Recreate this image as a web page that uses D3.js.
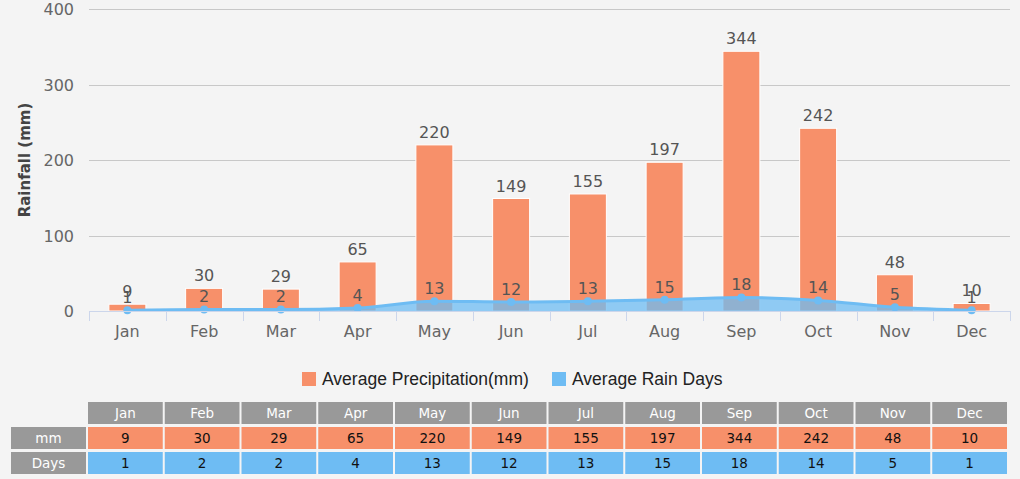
<!DOCTYPE html>
<html>
<head>
<meta charset="utf-8">
<script src="https://cdnjs.cloudflare.com/ajax/libs/d3/7.8.5/d3.min.js"></script>
<style>
  body { margin: 0; background: #f4f4f4; }
  svg { display: block; }
</style>
</head>
<body>
<div id="chart"></div>
<script>
// DATA
const months = ['Jan', 'Feb', 'Mar', 'Apr', 'May', 'Jun', 'Jul', 'Aug', 'Sep', 'Oct', 'Nov', 'Dec'];
const rainfall = [9, 30, 29, 65, 220, 149, 155, 197, 344, 242, 48, 10];
const rainDays = [1, 2, 2, 4, 13, 12, 13, 15, 18, 14, 5, 1];
const yTicks = [0, 100, 200, 300, 400];

const W = 1020, H = 479;
const margin = { top: 9, left: 89, right: 10 };
const plotBottom = 311;

const orange = '#f7906a';
const blue = '#6ebcf3';
const font = '"DejaVu Sans", Verdana, sans-serif';

const svg = d3.select('#chart').append('svg').attr('width', W).attr('height', H);
svg.append('rect').attr('width', W).attr('height', H).attr('fill', '#f4f4f4');

const x = d3.scaleBand().domain(months).range([margin.left, W - margin.right]);
const y = d3.scaleLinear().domain([0, 400]).range([plotBottom, margin.top]);

// GRID
svg.append('g').selectAll('line').data(yTicks.slice(1)).enter().append('line')
    .attr('x1', margin.left).attr('x2', W - margin.right)
    .attr('y1', d => Math.round(y(d)) + 0.5).attr('y2', d => Math.round(y(d)) + 0.5)
    .attr('stroke', '#c8c8c8');

// Y LABELS
svg.append('g').selectAll('text').data(yTicks).enter().append('text')
    .attr('x', 74).attr('y', d => y(d) + 6)
    .attr('text-anchor', 'end')
    .attr('font-family', font).attr('font-size', 16).attr('fill', '#666')
    .text(d => d);

svg.append('text')
    .attr('transform', 'translate(30,' + (margin.top + plotBottom) / 2 + ') rotate(-90)')
    .attr('text-anchor', 'middle')
    .attr('font-family', font).attr('font-size', 15).attr('font-weight', 'bold').attr('fill', '#444')
    .text('Rainfall (mm)');

// BARS
const bw = 37;
svg.append('g').selectAll('rect').data(rainfall).enter().append('rect')
    .attr('x', (d, i) => x(months[i]) + x.bandwidth() / 2 - bw / 2)
    .attr('y', d => y(d))
    .attr('width', bw)
    .attr('height', d => y(0) - y(d))
    .attr('fill', orange).attr('stroke', '#fff').attr('stroke-width', 1);

// AREA + LINE
const cx = i => x(months[i]) + x.bandwidth() / 2;
const area = d3.area().x((d, i) => cx(i)).y0(y(0)).y1(d => y(d)).curve(d3.curveMonotoneX);
const line = d3.line().x((d, i) => cx(i)).y(d => y(d)).curve(d3.curveMonotoneX);
svg.append('path').datum(rainDays).attr('d', area).attr('fill', blue).attr('fill-opacity', 0.75);
svg.append('path').datum(rainDays).attr('d', line).attr('fill', 'none').attr('stroke', blue).attr('stroke-width', 3);
svg.append('g').selectAll('circle').data(rainDays).enter().append('circle')
    .attr('cx', (d, i) => cx(i)).attr('cy', d => y(d)).attr('r', 4).attr('fill', blue);

// X AXIS
svg.append('line').attr('x1', margin.left).attr('x2', W - margin.right)
    .attr('y1', plotBottom + 0.5).attr('y2', plotBottom + 0.5).attr('stroke', '#ccd6eb');
svg.append('g').selectAll('line').data(d3.range(13)).enter().append('line')
    .attr('x1', i => Math.round(margin.left + i * x.step()) + 0.5)
    .attr('x2', i => Math.round(margin.left + i * x.step()) + 0.5)
    .attr('y1', plotBottom).attr('y2', plotBottom + 10).attr('stroke', '#ccd6eb');
svg.append('g').selectAll('text').data(months).enter().append('text')
    .attr('x', d => x(d) + x.bandwidth() / 2).attr('y', 337)
    .attr('text-anchor', 'middle')
    .attr('font-family', font).attr('font-size', 16).attr('fill', '#666')
    .text(d => d);

// DATA LABELS
svg.append('g').selectAll('text').data(rainfall).enter().append('text')
    .attr('x', (d, i) => cx(i)).attr('y', d => y(d) - 7)
    .attr('text-anchor', 'middle')
    .attr('font-family', font).attr('font-size', 16).attr('fill', '#555')
    .text(d => d);
svg.append('g').selectAll('text').data(rainDays).enter().append('text')
    .attr('x', (d, i) => cx(i)).attr('y', d => y(d) - 7)
    .attr('text-anchor', 'middle')
    .attr('font-family', font).attr('font-size', 16).attr('fill', '#555')
    .text(d => d);

// LEGEND
const legend = [['Average Precipitation(mm)', orange, 302], ['Average Rain Days', blue, 552]];
legend.forEach(l => {
    svg.append('rect').attr('x', l[2]).attr('y', 372).attr('width', 14).attr('height', 14).attr('fill', l[1]);
    svg.append('text').attr('x', l[2] + 20).attr('y', 385)
        .attr('font-family', '"Liberation Sans", Arial, sans-serif').attr('font-size', 17.5).attr('fill', '#222')
        .text(l[0]);
});

// TABLE
const colW = x.step();
const rows = [
    { label: '', values: months, fill: '#999999', color: '#fff', y: 402 },
    { label: 'mm', values: rainfall, fill: orange, color: '#111', y: 427 },
    { label: 'Days', values: rainDays, fill: blue, color: '#111', y: 452 }
];
const rowH = 22;
rows.forEach((r, ri) => {
    const g = svg.append('g');
    if (ri > 0) {
        g.append('rect').attr('x', 11).attr('y', r.y).attr('width', 75).attr('height', rowH).attr('fill', '#999999');
        g.append('text').attr('x', 48.5).attr('y', r.y + 16).attr('text-anchor', 'middle')
            .attr('font-family', font).attr('font-size', 13.5).attr('fill', '#fff').text(r.label);
    }
    g.selectAll('rect.c').data(r.values).enter().append('rect').attr('class', 'c')
        .attr('x', (d, i) => x(months[i]) - 1).attr('y', r.y)
        .attr('width', colW - 2).attr('height', rowH).attr('fill', r.fill);
    g.selectAll('text.c').data(r.values).enter().append('text').attr('class', 'c')
        .attr('x', (d, i) => cx(i) - 2).attr('y', r.y + 16).attr('text-anchor', 'middle')
        .attr('font-family', font).attr('font-size', 13.5).attr('fill', r.color).text(d => d);
});
</script>
</body>
</html>
